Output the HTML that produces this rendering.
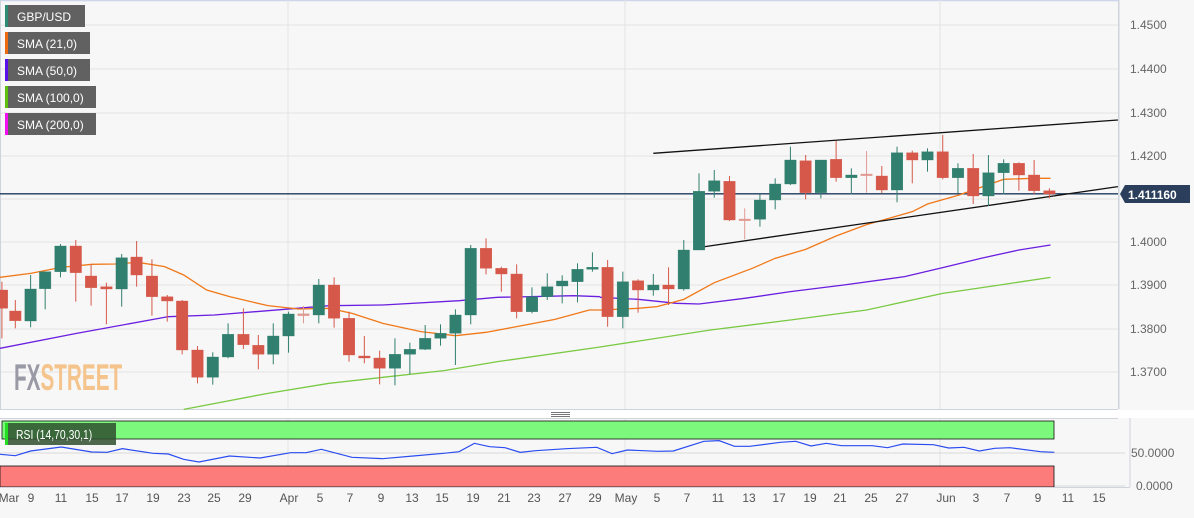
<!DOCTYPE html>
<html><head><meta charset="utf-8"><style>
html,body{margin:0;padding:0;background:#f7f7f7;}
body{width:1194px;height:513px;overflow:hidden;font-family:"Liberation Sans",sans-serif;}
</style></head><body>
<svg width="1194" height="513" viewBox="0 0 1194 513" xmlns="http://www.w3.org/2000/svg" font-family="Liberation Sans, sans-serif">
<rect x="0" y="0" width="1194" height="513" fill="#f7f7f7"/>
<line x1="0" y1="0.5" x2="1194" y2="0.5" stroke="#cdd6ea" stroke-width="1.5"/>
<g stroke="#e3e3e3" stroke-width="1">
<line x1="0" y1="25" x2="1118" y2="25"/><line x1="0" y1="69" x2="1118" y2="69"/>
<line x1="0" y1="113" x2="1118" y2="113"/><line x1="0" y1="156" x2="1118" y2="156"/>
<line x1="0" y1="199" x2="1118" y2="199"/><line x1="0" y1="242" x2="1118" y2="242"/>
<line x1="0" y1="285" x2="1118" y2="285"/><line x1="0" y1="329" x2="1118" y2="329"/>
<line x1="0" y1="372" x2="1118" y2="372"/>
<line x1="288" y1="0" x2="288" y2="409"/><line x1="625" y1="0" x2="625" y2="409"/><line x1="940" y1="0" x2="940" y2="409"/>
<line x1="288" y1="418" x2="288" y2="487"/><line x1="625" y1="418" x2="625" y2="487"/><line x1="940" y1="418" x2="940" y2="487"/>
</g>
<line x1="1118.5" y1="0" x2="1118.5" y2="409" stroke="#cfd3dc"/>
<line x1="0" y1="409.5" x2="1118" y2="409.5" stroke="#cfd3dc"/>
<line x1="0.5" y1="0" x2="0.5" y2="409" stroke="#cfd3dc"/>
<g transform="translate(14,390) scale(0.56,1)"><text x="0" y="0" font-size="37" font-weight="bold"><tspan fill="#9a9aa6">FX</tspan><tspan fill="#f4c48c">STREET</tspan></text></g>
<line x1="0" y1="193.8" x2="1118" y2="193.8" stroke="#1f3a5f" stroke-width="1.3"/>
<g transform="translate(0,160) scale(0.3827,0.33333)">
<polyline fill="none" stroke="#7ac943" stroke-width="1.3" vector-effect="non-scaling-stroke" points="480,748 700,700 860,670 1000,652 1160,632 1300,605 1568,561"/>
<polyline fill="none" stroke="#6a1ee0" stroke-width="1.3" vector-effect="non-scaling-stroke" points="0,565 200,520 440,470 560,465 700,452 860,437 1000,435 1200,422 1300,412 1500,407 1568,410"/>
<polyline fill="none" stroke="#f07818" stroke-width="1.3" vector-effect="non-scaling-stroke" points="0,352 80,340 160,322 240,313 300,312 360,307 430,320 480,345 540,390 600,410 700,437 780,447 860,445 920,460 1000,490 1100,515 1190,527 1270,517 1350,500 1450,478 1540,450 1568,450"/>
<g>
<g stroke="#d5584a" fill="#d5584a">
<line x1="5" y1="365" x2="5" y2="535" vector-effect="non-scaling-stroke"/><rect x="-10" y="390" width="30" height="55"/>
<line x1="40" y1="420" x2="40" y2="505" vector-effect="non-scaling-stroke"/><rect x="25" y="453" width="30" height="29"/>
<line x1="198" y1="240" x2="198" y2="425" vector-effect="non-scaling-stroke"/><rect x="183" y="258" width="30" height="80"/>
<line x1="238" y1="313" x2="238" y2="437" vector-effect="non-scaling-stroke"/><rect x="223" y="348" width="30" height="35"/>
<line x1="278" y1="368" x2="278" y2="493" vector-effect="non-scaling-stroke"/><rect x="263" y="380" width="30" height="7"/>
<line x1="357" y1="243" x2="357" y2="380" vector-effect="non-scaling-stroke"/><rect x="342" y="291" width="30" height="54"/>
<line x1="397" y1="298" x2="397" y2="467" vector-effect="non-scaling-stroke"/><rect x="382" y="348" width="30" height="62"/>
<line x1="437" y1="405" x2="437" y2="485" vector-effect="non-scaling-stroke"/><rect x="422" y="410" width="30" height="13"/>
<line x1="476" y1="420" x2="476" y2="583" vector-effect="non-scaling-stroke"/><rect x="461" y="423" width="30" height="147"/>
<line x1="516" y1="558" x2="516" y2="670" vector-effect="non-scaling-stroke"/><rect x="501" y="570" width="30" height="82"/>
<line x1="636" y1="445" x2="636" y2="567" vector-effect="non-scaling-stroke"/><rect x="621" y="523" width="30" height="31"/>
<line x1="675" y1="525" x2="675" y2="628" vector-effect="non-scaling-stroke"/><rect x="660" y="556" width="30" height="27"/>
<line x1="873" y1="352" x2="873" y2="503" vector-effect="non-scaling-stroke"/><rect x="858" y="375" width="30" height="100"/>
<line x1="912" y1="455" x2="912" y2="605" vector-effect="non-scaling-stroke"/><rect x="897" y="475" width="30" height="110"/>
<line x1="952" y1="528" x2="952" y2="610" vector-effect="non-scaling-stroke"/><rect x="937" y="588" width="30" height="6"/>
<line x1="992" y1="572" x2="992" y2="673" vector-effect="non-scaling-stroke"/><rect x="977" y="594" width="30" height="31"/>
<line x1="1270" y1="235" x2="1270" y2="343" vector-effect="non-scaling-stroke"/><rect x="1255" y="265" width="30" height="60"/>
<line x1="1310" y1="320" x2="1310" y2="395" vector-effect="non-scaling-stroke"/><rect x="1295" y="325" width="30" height="17"/>
<line x1="1350" y1="313" x2="1350" y2="475" vector-effect="non-scaling-stroke"/><rect x="1335" y="342" width="30" height="113"/>
</g>
<g stroke="#e09a92" fill="#e09a92">
<line x1="793" y1="438" x2="793" y2="490" vector-effect="non-scaling-stroke"/><rect x="778" y="461" width="30" height="6"/>
</g>
<g stroke="#317f6e" fill="#317f6e">
<line x1="80" y1="345" x2="80" y2="502" vector-effect="non-scaling-stroke"/><rect x="65" y="387" width="30" height="96"/>
<line x1="118" y1="335" x2="118" y2="448" vector-effect="non-scaling-stroke"/><rect x="103" y="335" width="30" height="51"/>
<line x1="158" y1="252" x2="158" y2="352" vector-effect="non-scaling-stroke"/><rect x="143" y="258" width="30" height="77"/>
<line x1="318" y1="282" x2="318" y2="440" vector-effect="non-scaling-stroke"/><rect x="303" y="293" width="30" height="94"/>
<line x1="556" y1="577" x2="556" y2="674" vector-effect="non-scaling-stroke"/><rect x="541" y="591" width="30" height="61"/>
<line x1="596" y1="490" x2="596" y2="595" vector-effect="non-scaling-stroke"/><rect x="581" y="523" width="30" height="68"/>
<line x1="714" y1="490" x2="714" y2="613" vector-effect="non-scaling-stroke"/><rect x="699" y="528" width="30" height="55"/>
<line x1="754" y1="455" x2="754" y2="578" vector-effect="non-scaling-stroke"/><rect x="739" y="462" width="30" height="66"/>
<line x1="833" y1="357" x2="833" y2="490" vector-effect="non-scaling-stroke"/><rect x="818" y="375" width="30" height="90"/>
<line x1="1032" y1="535" x2="1032" y2="676" vector-effect="non-scaling-stroke"/><rect x="1017" y="583" width="30" height="42"/>
<line x1="1071" y1="548" x2="1071" y2="643" vector-effect="non-scaling-stroke"/><rect x="1056" y="568" width="30" height="15"/>
<line x1="1111" y1="495" x2="1111" y2="570" vector-effect="non-scaling-stroke"/><rect x="1096" y="535" width="30" height="33"/>
<line x1="1151" y1="493" x2="1151" y2="557" vector-effect="non-scaling-stroke"/><rect x="1136" y="520" width="30" height="15"/>
<line x1="1190" y1="448" x2="1190" y2="615" vector-effect="non-scaling-stroke"/><rect x="1175" y="465" width="30" height="55"/>
<line x1="1230" y1="255" x2="1230" y2="493" vector-effect="non-scaling-stroke"/><rect x="1215" y="265" width="30" height="200"/>
<line x1="1390" y1="382" x2="1390" y2="460" vector-effect="non-scaling-stroke"/><rect x="1375" y="410" width="30" height="45"/>
<line x1="1430" y1="340" x2="1430" y2="420" vector-effect="non-scaling-stroke"/><rect x="1415" y="380" width="30" height="30"/>
<line x1="1469" y1="346" x2="1469" y2="430" vector-effect="non-scaling-stroke"/><rect x="1454" y="363" width="30" height="15"/>
<line x1="1509" y1="310" x2="1509" y2="427" vector-effect="non-scaling-stroke"/><rect x="1494" y="328" width="30" height="37"/>
<line x1="1548" y1="277" x2="1548" y2="335" vector-effect="non-scaling-stroke"/><rect x="1533" y="322" width="30" height="6"/>
</g>
</g>
</g>
<g transform="translate(600,130) scale(0.38081,0.33333)">
<polyline fill="none" stroke="#7ac943" stroke-width="1.3" vector-effect="non-scaling-stroke" points="0,651 290,600 500,570 700,540 900,490 1050,465 1183,442"/>
<polyline fill="none" stroke="#6a1ee0" stroke-width="1.3" vector-effect="non-scaling-stroke" points="0,502 100,508 200,520 260,522 380,505 500,485 640,465 800,440 900,413 1000,385 1100,360 1183,345"/>
<polyline fill="none" stroke="#f07818" stroke-width="1.3" vector-effect="non-scaling-stroke" points="0,540 100,535 150,530 220,508 300,458 400,415 460,385 540,358 620,318 700,284 820,245 860,222 940,196 980,180 1060,148 1140,145 1183,145"/>
<line x1="140" y1="70" x2="1360" y2="-30" stroke="#111" stroke-width="1.3" vector-effect="non-scaling-stroke"/>
<line x1="262" y1="352" x2="1360" y2="170" stroke="#111" stroke-width="1.3" vector-effect="non-scaling-stroke"/>
<g stroke="#d5584a" fill="#d5584a">
<line x1="20" y1="390" x2="20" y2="590" vector-effect="non-scaling-stroke"/><rect x="5" y="412" width="30" height="148"/>
<line x1="100" y1="448" x2="100" y2="548" vector-effect="non-scaling-stroke"/><rect x="85" y="452" width="30" height="28"/>
<line x1="180" y1="412" x2="180" y2="525" vector-effect="non-scaling-stroke"/><rect x="165" y="465" width="30" height="12"/>
<line x1="340" y1="138" x2="340" y2="273" vector-effect="non-scaling-stroke"/><rect x="325" y="154" width="30" height="116"/>
<line x1="540" y1="75" x2="540" y2="208" vector-effect="non-scaling-stroke"/><rect x="525" y="92" width="30" height="96"/>
<line x1="620" y1="33" x2="620" y2="155" vector-effect="non-scaling-stroke"/><rect x="605" y="88" width="30" height="55"/>
<line x1="740" y1="108" x2="740" y2="190" vector-effect="non-scaling-stroke"/><rect x="725" y="138" width="30" height="42"/>
<line x1="820" y1="62" x2="820" y2="160" vector-effect="non-scaling-stroke"/><rect x="805" y="68" width="30" height="22"/>
<line x1="900" y1="15" x2="900" y2="148" vector-effect="non-scaling-stroke"/><rect x="885" y="65" width="30" height="78"/>
<line x1="980" y1="72" x2="980" y2="222" vector-effect="non-scaling-stroke"/><rect x="965" y="115" width="30" height="83"/>
<line x1="1100" y1="97" x2="1100" y2="182" vector-effect="non-scaling-stroke"/><rect x="1085" y="100" width="30" height="35"/>
<line x1="1140" y1="90" x2="1140" y2="192" vector-effect="non-scaling-stroke"/><rect x="1125" y="135" width="30" height="47"/>
<line x1="1180" y1="175" x2="1180" y2="205" vector-effect="non-scaling-stroke"/><rect x="1165" y="182" width="30" height="10"/>
</g>
<g stroke="#e09a92" fill="#e09a92">
<line x1="380" y1="235" x2="380" y2="328" vector-effect="non-scaling-stroke"/><rect x="365" y="267" width="30" height="5"/>
<line x1="700" y1="63" x2="700" y2="188" vector-effect="non-scaling-stroke"/><rect x="685" y="132" width="30" height="5"/>
</g>
<g stroke="#317f6e" fill="#317f6e">
<line x1="60" y1="425" x2="60" y2="595" vector-effect="non-scaling-stroke"/><rect x="45" y="455" width="30" height="105"/>
<line x1="140" y1="432" x2="140" y2="497" vector-effect="non-scaling-stroke"/><rect x="125" y="465" width="30" height="15"/>
<line x1="220" y1="330" x2="220" y2="482" vector-effect="non-scaling-stroke"/><rect x="205" y="360" width="30" height="117"/>
<line x1="260" y1="130" x2="260" y2="360" vector-effect="non-scaling-stroke"/><rect x="245" y="184" width="30" height="176"/>
<line x1="300" y1="120" x2="300" y2="203" vector-effect="non-scaling-stroke"/><rect x="285" y="152" width="30" height="32"/>
<line x1="420" y1="192" x2="420" y2="290" vector-effect="non-scaling-stroke"/><rect x="405" y="210" width="30" height="58"/>
<line x1="460" y1="145" x2="460" y2="238" vector-effect="non-scaling-stroke"/><rect x="445" y="162" width="30" height="48"/>
<line x1="500" y1="50" x2="500" y2="165" vector-effect="non-scaling-stroke"/><rect x="485" y="90" width="30" height="72"/>
<line x1="580" y1="90" x2="580" y2="205" vector-effect="non-scaling-stroke"/><rect x="565" y="90" width="30" height="98"/>
<line x1="660" y1="115" x2="660" y2="193" vector-effect="non-scaling-stroke"/><rect x="645" y="135" width="30" height="8"/>
<line x1="780" y1="50" x2="780" y2="217" vector-effect="non-scaling-stroke"/><rect x="765" y="68" width="30" height="112"/>
<line x1="860" y1="55" x2="860" y2="125" vector-effect="non-scaling-stroke"/><rect x="845" y="65" width="30" height="25"/>
<line x1="940" y1="100" x2="940" y2="190" vector-effect="non-scaling-stroke"/><rect x="925" y="115" width="30" height="28"/>
<line x1="1020" y1="75" x2="1020" y2="228" vector-effect="non-scaling-stroke"/><rect x="1005" y="128" width="30" height="70"/>
<line x1="1060" y1="88" x2="1060" y2="193" vector-effect="non-scaling-stroke"/><rect x="1045" y="100" width="30" height="28"/>
</g>
</g>
<rect x="1119" y="0" width="75" height="409" fill="#f7f7f7"/>
<line x1="1119" y1="0" x2="1119" y2="409" stroke="#cfd3dc"/>
<g font-size="12" fill="#666">
<text x="1130" y="29">1.4500</text><text x="1130" y="73">1.4400</text><text x="1130" y="117">1.4300</text>
<text x="1130" y="160">1.4200</text><text x="1130" y="246">1.4000</text><text x="1130" y="289">1.3900</text>
<text x="1130" y="333">1.3800</text><text x="1130" y="376">1.3700</text>
</g>
<polygon points="1120,194 1125,185 1190,185 1190,203 1125,203" fill="#2b3f5c"/>
<text x="1128" y="199" font-size="12" font-weight="bold" fill="#fff">1.411160</text>
<g font-size="12" fill="#fff">
<rect x="5" y="5" width="80" height="22" fill="#616161"/><rect x="5" y="5" width="3" height="22" fill="#2f8a74"/><text x="17" y="21">GBP/USD</text>
<rect x="5" y="32" width="85" height="22" fill="#616161"/><rect x="5" y="32" width="3" height="22" fill="#ee6a10"/><text x="17" y="48">SMA (21,0)</text>
<rect x="5" y="59" width="85" height="22" fill="#616161"/><rect x="5" y="59" width="3" height="22" fill="#5a10e8"/><text x="17" y="75">SMA (50,0)</text>
<rect x="5" y="86" width="91" height="22" fill="#616161"/><rect x="5" y="86" width="3" height="22" fill="#5cbf10"/><text x="17" y="102">SMA (100,0)</text>
<rect x="5" y="113" width="91" height="22" fill="#616161"/><rect x="5" y="113" width="3" height="22" fill="#f010f0"/><text x="17" y="129">SMA (200,0)</text>
</g>
<rect x="0" y="410" width="1194" height="8" fill="#ffffff"/>
<g stroke="#777" stroke-width="1"><line x1="551" y1="412.5" x2="570" y2="412.5"/><line x1="551" y1="414.5" x2="570" y2="414.5"/><line x1="551" y1="416.5" x2="570" y2="416.5"/></g>
<line x1="0" y1="418.5" x2="1118" y2="418.5" stroke="#cfd3dc"/>
<line x1="0" y1="453" x2="1125" y2="453" stroke="#d8d8d8"/>
<line x1="0" y1="486" x2="1125" y2="486" stroke="#d8d8d8"/>
<rect x="2" y="421" width="1052" height="18" fill="#7cf87c" stroke="#111" stroke-width="0.8"/>
<rect x="0" y="466" width="1054" height="21" fill="#fc7c7c" stroke="#111" stroke-width="0.8"/>
<g transform="translate(0,400) scale(0.7651,0.33333)">
<polyline fill="none" stroke="#2a4cf0" stroke-width="1.2" vector-effect="non-scaling-stroke" points="0,163 20,167 40,153 80,141 120,156 140,157 160,146 200,160 220,162 240,178 260,186 300,168 340,174 380,158 400,158 420,148 460,172 500,176 540,168 580,160 600,155 620,130 640,140 660,143 680,157 700,152 740,146 780,142 800,161 820,150 860,154 880,153 920,124 940,122 960,139 980,139 1020,127 1040,124 1060,138 1080,130 1100,137 1140,137 1160,143 1180,132 1220,134 1240,144 1260,142 1280,153 1300,145 1320,143 1360,155 1378,157"/>
</g>
<rect x="5" y="423" width="111" height="22" fill="#2f4f2f" opacity="0.85"/>
<rect x="5" y="423" width="3" height="22" fill="#22dd22"/>
<g transform="translate(16,439) scale(0.8,1)"><text x="0" y="0" font-size="13" fill="#fff">RSI (14,70,30,1)</text></g>
<line x1="1130" y1="418" x2="1130" y2="487" stroke="#cfd3dc"/>
<g font-size="12" fill="#666">
<text x="1131" y="457">50.0000</text><text x="1136" y="490">0.0000</text>
</g>
<line x1="0" y1="487.5" x2="1130" y2="487.5" stroke="#cfd3dc"/>
<g font-size="12" fill="#555" text-anchor="middle">
<text x="9" y="502">Mar</text><text x="31" y="502">9</text><text x="61" y="502">11</text><text x="92" y="502">15</text>
<text x="122" y="502">17</text><text x="153" y="502">19</text><text x="184" y="502">23</text><text x="214" y="502">25</text>
<text x="245" y="502">29</text><text x="289" y="502">Apr</text><text x="320" y="502">5</text><text x="350" y="502">7</text>
<text x="381" y="502">9</text><text x="412" y="502">13</text><text x="442" y="502">15</text><text x="473" y="502">19</text>
<text x="504" y="502">21</text><text x="534" y="502">23</text><text x="565" y="502">27</text><text x="595" y="502">29</text>
<text x="626" y="502">May</text><text x="657" y="502">5</text><text x="687" y="502">7</text><text x="718" y="502">11</text>
<text x="749" y="502">13</text><text x="779" y="502">17</text><text x="810" y="502">19</text><text x="840" y="502">21</text>
<text x="871" y="502">25</text><text x="902" y="502">27</text><text x="946" y="502">Jun</text><text x="976" y="502">3</text>
<text x="1007" y="502">7</text><text x="1038" y="502">9</text><text x="1068" y="502">11</text><text x="1099" y="502">15</text>
</g>
</svg>
</body></html>
